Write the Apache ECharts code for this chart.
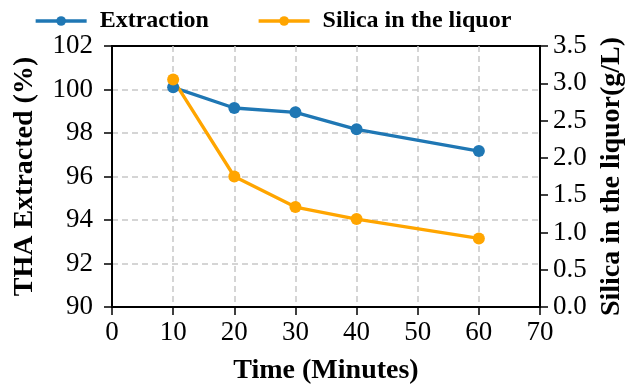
<!DOCTYPE html>
<html>
<head>
<meta charset="utf-8">
<script src="https://cdn.jsdelivr.net/npm/echarts@6/dist/echarts.min.js"></script>
<style>
  html, body { margin: 0; padding: 0; background: #fff; }
  #main { width: 629px; height: 388px; }
</style>
</head>
<body>
<div id="main"></div>
<script>
// 数据
var times = [10, 20, 30, 40, 60];
var extraction = [100.1, 99.15, 98.95, 98.17, 97.17];
var silica = [3.05, 1.75, 1.34, 1.18, 0.92];

var font = "'Liberation Serif', 'Times New Roman', serif";
var chart = echarts.init(document.getElementById("main"));

var gridLine = { show: true, showMaxLine: false, lineStyle: { color: "#c8c8c8", type: [6, 4], width: 1.5 } };
var tick = { show: true, length: 8, lineStyle: { color: "#000", width: 1.5 } };
var titleStyle = { fontFamily: font, fontSize: 28, fontWeight: "bold", color: "#000" };

var option = {
  animation: false,
  textStyle: { fontFamily: font },
  legend: {
    top: 4,
    left: 29,
    itemWidth: 51,
    itemHeight: 12,
    itemGap: 48,
    lineStyle: { width: 3.3 },
    textStyle: { fontFamily: font, fontSize: 24, fontWeight: "bold", color: "#000", padding: [0, 0, 0, 8] },
    data: ["Extraction", "Silica in the liquor"]
  },
  grid: {
    left: 112,
    right: 89,
    top: 46,
    bottom: 81,
    outerBoundsMode: "none",
    show: true,
    borderColor: "#000",
    borderWidth: 2
  },
  xAxis: {
    type: "value",
    min: 0,
    max: 70,
    interval: 10,
    name: "Time (Minutes)",
    nameLocation: "middle",
    nameGap: 50,
    nameTextStyle: titleStyle,
    axisLine: { lineStyle: { color: "#000", width: 2 } },
    axisTick: tick,
    axisLabel: { fontFamily: font, fontSize: 27, color: "#000", margin: 12 },
    splitLine: gridLine
  },
  yAxis: [
    {
      type: "value",
      min: 90,
      max: 102,
      interval: 2,
      name: "THA Extracted (%)",
      nameLocation: "middle",
      nameGap: 73,
      nameTextStyle: titleStyle,
      axisLine: { show: true, lineStyle: { color: "#000", width: 2 } },
      axisTick: tick,
      axisLabel: { fontFamily: font, fontSize: 27, color: "#000", margin: 19 },
      splitLine: gridLine
    },
    {
      type: "value",
      min: 0,
      max: 3.5,
      interval: 0.5,
      position: "right",
      name: "Silica in the liquor(g/L)",
      nameLocation: "middle",
      nameGap: 58,
      nameRotate: 90,
      nameTextStyle: titleStyle,
      axisLine: { show: true, lineStyle: { color: "#000", width: 2 } },
      axisTick: tick,
      axisLabel: {
        fontFamily: font, fontSize: 27, color: "#000", margin: 13,
        formatter: function (v) { return v.toFixed(1); }
      },
      splitLine: { show: false }
    }
  ],
  series: [
    {
      name: "Extraction",
      type: "line",
      yAxisIndex: 0,
      data: times.map(function (t, i) { return [t, extraction[i]]; }),
      symbol: "circle",
      symbolSize: 12,
      lineStyle: { width: 3.3, color: "#1f77b4" },
      itemStyle: { color: "#1f77b4" }
    },
    {
      name: "Silica in the liquor",
      type: "line",
      yAxisIndex: 1,
      data: times.map(function (t, i) { return [t, silica[i]]; }),
      symbol: "circle",
      symbolSize: 12,
      lineStyle: { width: 3.3, color: "#ffa500" },
      itemStyle: { color: "#ffa500" }
    }
  ]
};

chart.setOption(option);
</script>
</body>
</html>
